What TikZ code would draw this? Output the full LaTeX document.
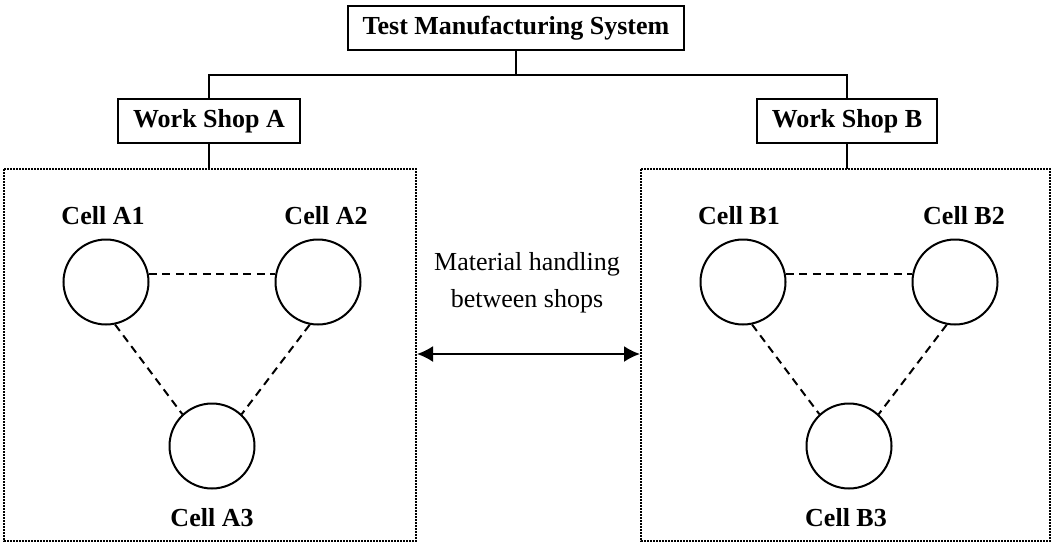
\documentclass[tikz,border=0pt]{standalone}
\usepackage{fontspec}
\setmainfont{Liberation Serif}
\usetikzlibrary{arrows.meta}
\begin{document}
\begin{tikzpicture}[x=1pt,y=-1pt,
  every node/.style={font=\fontsize{26}{37}\selectfont},
  unitbox/.style={draw,line width=2pt,font=\fontsize{26}{30}\selectfont\bfseries,
    minimum height=44pt,inner xsep=15pt,inner ysep=0pt},
  shopframe/.style={line width=1.9pt,dash pattern=on 1.7pt off 1.3pt},
  cell/.style={draw,circle,line width=2pt,minimum size=85pt,inner sep=0pt},
  celllabel/.style={font=\fontsize{26}{30}\selectfont\bfseries},
  link/.style={line width=2pt,dash pattern=on 8pt off 5.5pt},
  tree/.style={line width=2pt}]
\useasboundingbox (0,0) rectangle (1054,544);

% hierarchy
\node[unitbox] (sys) at (516,28) {Test Manufacturing System};
\node[unitbox] (wsa) at (209,121) {Work Shop A};
\node[unitbox] (wsb) at (847,121) {Work Shop B};
\coordinate (bus) at (516,75);
\coordinate (fa) at (209,169);
\coordinate (fb) at (847,169);

\draw[tree] (sys.south) -- (bus);
\draw[tree] (wsa.north) |- (bus) -| (wsb.north);
\draw[tree] (wsa.south) -- (fa);
\draw[tree] (wsb.south) -- (fb);

% shop frames
\draw[shopframe] (4,169) rectangle (416,541);
\draw[shopframe] (641,169) rectangle (1050,541);

% cells of shop A
\node[cell] (a1) at (106,282) {};
\node[cell] (a2) at (318,282) {};
\node[cell] (a3) at (212,446) {};
\node[celllabel] (la1) at (103,216) {Cell A1};
\node[celllabel] (la2) at (326,216) {Cell A2};
\node[celllabel] (la3) at (212,518) {Cell A3};
\draw[link] (a1.10) -- (a2.170);
\draw[link] (a1.-78) -- (a3.133);
\draw[link] (a2.-101) -- (a3.47);

% cells of shop B
\node[cell] (b1) at (743,282) {};
\node[cell] (b2) at (955,282) {};
\node[cell] (b3) at (849,446) {};
\node[celllabel] (lb1) at (739,216) {Cell B1};
\node[celllabel] (lb2) at (964,216) {Cell B2};
\node[celllabel] (lb3) at (846,518) {Cell B3};
\draw[link] (b1.10) -- (b2.170);
\draw[link] (b1.-78) -- (b3.133);
\draw[link] (b2.-101) -- (b3.47);

% transport between the shops
\node[align=center] (mh) at (527,283) {Material handling\\between shops};
\coordinate (ta) at (417,354);
\coordinate (tb) at (640,354);
\draw[line width=2pt,{Latex[length=16pt,width=16pt]}-{Latex[length=16pt,width=16pt]}] (ta) -- (tb);
\end{tikzpicture}
\end{document}
